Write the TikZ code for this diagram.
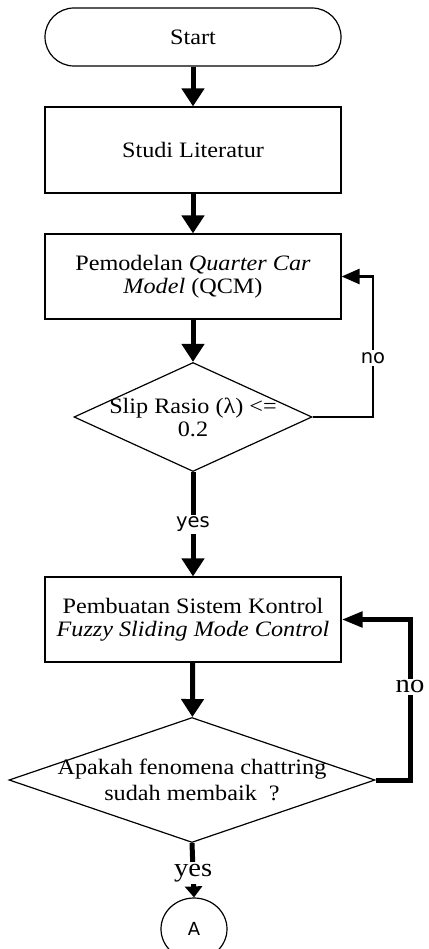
\documentclass[tikz,border=0pt]{standalone}
\usepackage{fontspec}
\setmainfont{Liberation Serif}[FakeStretch=1.1]
\newfontfamily\lblfont{DejaVu Sans}
\usetikzlibrary{arrows.meta,shapes.geometric}

\begin{document}
\begin{tikzpicture}[x=1pt,y=-1pt,
  boxtext/.style={font=\fontsize{22}{23}\selectfont, align=center},
  terminal/.style={draw, line width=1.2pt, rounded corners=29pt,
    minimum width=296pt, minimum height=58pt, inner sep=0pt, boxtext},
  process/.style={draw, line width=1.2pt, minimum width=296pt,
    inner sep=0pt, boxtext},
  decision/.style={draw, line width=1.2pt, diamond, inner sep=0pt},
  connector/.style={draw, line width=1.2pt, ellipse, inner sep=0pt,
    minimum width=66pt, minimum height=62pt,
    font=\lblfont\fontsize{18}{20}\selectfont},
  flow/.style={line width=5pt, -{Triangle[width=22pt,length=18pt]}},
  thinloop/.style={line width=2.7pt, -{Triangle[width=15pt,length=18pt]}},
  thickloop/.style={line width=5pt, -{Triangle[width=15pt,length=21pt]}},
  sanslabel/.style={fill=white, inner sep=2pt,
    font=\lblfont\fontsize{19.5}{21}\selectfont},
  seriflabel/.style={fill=white, inner sep=2pt,
    font=\fontsize{26}{28}\selectfont}
]
\useasboundingbox (0,0) rectangle (428,949);

% boxes
\node[terminal] (start) at (193,37) {Start};
\node[process, minimum height=86pt] (studi) at (193,150) {Studi Literatur};
\node[process, minimum height=85pt] (qcm) at (193,276.5)
  {Pemodelan \textit{Quarter Car}\\\textit{Model} (QCM)};
\node[decision, minimum width=238pt, minimum height=109pt] (slip) at (193,417) {};
\node[boxtext] at (slip) {Slip Rasio (λ) <=\\0.2};
\node[process, minimum height=85pt] (fsmc) at (193,619.5)
  {Pembuatan Sistem Kontrol\\\textit{Fuzzy Sliding Mode Control}};
\node[decision, minimum width=366pt, minimum height=125pt] (chat) at (192,780) {};
\node[font=\fontsize{22}{26}\selectfont, align=center] at (chat)
  {Apakah fenomena chattring\\sudah membaik\ \ ?};
\node[connector] (A) at (194,929) {A};

% loop corners
\coordinate (c1) at (373,417);
\coordinate (c2) at (410,780);

% connectors
\draw[flow] (start) -- (studi);
\draw[flow] (studi) -- (qcm);
\draw[flow] (qcm) -- (slip);
\draw[flow] (slip.south) -- node[sanslabel, pos=0.5] {yes} (fsmc.north);
\draw[thinloop] (slip.east) -- (c1) |- node[sanslabel, pos=0.21] {no} (qcm.east);
\draw[flow] (fsmc) -- (chat);
\draw[thickloop] (chat.east) -- (c2) |- node[seriflabel, pos=0.29] {no} (fsmc.east);
\draw[line width=5pt, -{Triangle[width=17pt,length=11pt]}] (chat.south)
  -- node[seriflabel, pos=0.55] {yes} (A.north);
\end{tikzpicture}
\end{document}
